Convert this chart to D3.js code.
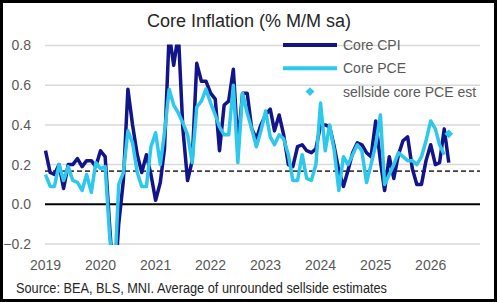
<!DOCTYPE html>
<meta charset="utf-8">
<style>
    body { margin: 0; background: #fff; }
    svg { display: block; }
    text { font-family: "Liberation Sans", Arial, sans-serif; }
    .tick-label { font-size: 14px; fill: #595959; }
    .legend text { font-size: 14px; fill: #595959; }
</style>
<svg width="499" height="302"></svg>
<script src="https://cdn.jsdelivr.net/npm/d3@7/dist/d3.min.js"></script>
<script>

    // monthly values, Jan 2019 onwards
    var cpiValues = [
        0.27, 0.16, 0.15, 0.20, 0.08, 0.20, 0.20, 0.23, 0.19, 0.22, 0.22, 0.19,
        0.27, 0.24, -0.10, -0.45, -0.10, 0.12, 0.58, 0.40, 0.25, 0.16, 0.25, 0.15,
        0.02, 0.11, 0.28, 0.86, 0.70, 0.86, 0.38, 0.12, 0.22, 0.71, 0.62, 0.62,
        0.56, 0.53, 0.27, 0.50, 0.52, 0.68, 0.30, 0.56, 0.56, 0.38, 0.33, 0.40,
        0.45, 0.48, 0.37, 0.45, 0.35, 0.20, 0.19, 0.29, 0.30, 0.27, 0.26, 0.28,
        0.40, 0.40, 0.39, 0.29, 0.17, 0.09, 0.17, 0.26, 0.31, 0.30, 0.26, 0.24,
        0.42, 0.22, 0.07, 0.24, 0.13, 0.25, 0.32, 0.34, 0.18, 0.10, 0.10, 0.22,
        0.30, 0.20, 0.21, 0.38, 0.21
    ];

    var pceValues = [
        0.15, 0.09, 0.09, 0.20, 0.12, 0.19, 0.12, 0.11, 0.07, 0.15, 0.06, 0.21,
        0.18, 0.19, -0.15, -0.40, 0.10, 0.16, 0.37, 0.31, 0.16, 0.09, 0.09, 0.29,
        0.36, 0.20, 0.36, 0.58, 0.50, 0.46, 0.41, 0.35, 0.21, 0.49, 0.52, 0.58,
        0.51, 0.45, 0.39, 0.35, 0.35, 0.60, 0.21, 0.56, 0.46, 0.38, 0.29, 0.37,
        0.47, 0.34, 0.30, 0.35, 0.33, 0.25, 0.12, 0.12, 0.25, 0.13, 0.12, 0.20,
        0.51, 0.27, 0.40, 0.27, 0.07, 0.24, 0.20, 0.25, 0.30, 0.27, 0.11, 0.20,
        0.30, 0.45, 0.10, 0.15, 0.20, 0.26, 0.24, 0.22, 0.22, 0.20, 0.24, 0.32,
        0.42, 0.38, 0.30, 0.25
    ];

    var estDate = [2026, 4];      // year, month index (May 2026)
    var estValue = 0.355;

    var yearLabels = ["2019", "2020", "2021", "2022", "2023", "2024", "2025", "2026"];
    var yTicks = [-0.2, 0, 0.2, 0.4, 0.6, 0.8];
    var targetLine = 0.167;

    var svg = d3.select("svg"),
            width = +svg.attr("width"),
            height = +svg.attr("height");

    var start = new Date(2019, 0, 1);
    function monthDate(i) { return d3.timeMonth.offset(start, i); }

    var x = d3.scaleTime()
            .domain([start, new Date(2026, 11, 1)])
            .range([45.5, 481]);

    var y = d3.scaleLinear()
            .domain([-0.2, 0.8])
            .range([244, 45.5]);

    var cpi = cpiValues.map(function(v, i) { return {date: monthDate(i), value: v}; });
    var pce = pceValues.map(function(v, i) { return {date: monthDate(i), value: v}; });

    // frame
    svg.append("rect")
            .attr("x", 1.5).attr("y", 1.5)
            .attr("width", width - 5).attr("height", height - 3)
            .attr("fill", "#fff")
            .attr("stroke", "#000")
            .attr("stroke-width", 3);

    // title
    svg.append("text")
            .attr("x", 249).attr("y", 27)
            .attr("text-anchor", "middle")
            .style("font-size", "18px")
            .style("fill", "#262626")
            .text("Core Inflation (% M/M sa)");

    // gridlines
    svg.append("g").selectAll("line")
            .data(yTicks.filter(function(d) { return d !== 0; }))
            .enter().append("line")
            .attr("x1", 45).attr("x2", 480)
            .attr("y1", function(d) { return y(d); })
            .attr("y2", function(d) { return y(d); })
            .attr("stroke", "#d9d9d9")
            .attr("stroke-width", 1.5);

    // y labels
    svg.append("g").selectAll("text")
            .data(yTicks)
            .enter().append("text")
            .attr("class", "tick-label")
            .attr("x", 31)
            .attr("y", function(d) { return y(d); })
            .attr("dy", "0.35em")
            .attr("text-anchor", "end")
            .text(function(d) { return d3.format(".1f")(d); });

    // x labels
    svg.append("g").selectAll("text")
            .data(yearLabels)
            .enter().append("text")
            .attr("class", "tick-label")
            .attr("x", function(d) { return x(new Date(+d, 0, 1)); })
            .attr("y", 270)
            .attr("text-anchor", "middle")
            .text(function(d) { return d; });

    // zero line
    svg.append("line")
            .attr("x1", 45).attr("x2", 480)
            .attr("y1", y(0)).attr("y2", y(0))
            .attr("stroke", "#000")
            .attr("stroke-width", 2);

    // 2% annualised line
    svg.append("line")
            .attr("x1", 45).attr("x2", 480)
            .attr("y1", y(targetLine)).attr("y2", y(targetLine))
            .attr("stroke", "#404040")
            .attr("stroke-width", 1.8)
            .attr("stroke-dasharray", "5,3");

    svg.append("clipPath").attr("id", "plot")
            .append("rect")
            .attr("x", 40).attr("y", y(0.8) - 1)
            .attr("width", 445).attr("height", y(-0.2) - y(0.8) + 2);

    var line = d3.line()
            .x(function(d) { return x(d.date); })
            .y(function(d) { return y(d.value); });

    var plot = svg.append("g").attr("clip-path", "url(#plot)");

    plot.append("path")
            .datum(cpi)
            .attr("d", line)
            .attr("fill", "none")
            .attr("stroke", "#13138a")
            .attr("stroke-width", 3.5)
            .attr("stroke-linejoin", "round");

    plot.append("path")
            .datum(pce)
            .attr("d", line)
            .attr("fill", "none")
            .attr("stroke", "#2ec8ec")
            .attr("stroke-width", 3.5)
            .attr("stroke-linejoin", "round");

    var diamond = d3.symbol().type(d3.symbolDiamond2).size(50);

    plot.append("path")
            .attr("d", diamond)
            .attr("transform", "translate(" + x(new Date(estDate[0], estDate[1], 1)) + "," + y(estValue) + ")")
            .attr("fill", "#2ec8ec");

    // legend
    var legend = svg.append("g").attr("class", "legend");
    var items = [
        {label: "Core CPI", color: "#13138a", type: "line"},
        {label: "Core PCE", color: "#2ec8ec", type: "line"},
        {label: "sellside core PCE est", color: "#2ec8ec", type: "diamond"}
    ];

    var item = legend.selectAll("g")
            .data(items)
            .enter().append("g")
            .attr("transform", function(d, i) { return "translate(0," + (45 + i * 23.3) + ")"; });

    item.filter(function(d) { return d.type === "line"; })
            .append("line")
            .attr("x1", 283).attr("x2", 337)
            .attr("stroke", function(d) { return d.color; })
            .attr("stroke-width", 4);

    item.filter(function(d) { return d.type === "diamond"; })
            .append("path")
            .attr("d", diamond)
            .attr("transform", "translate(310,0)")
            .attr("fill", function(d) { return d.color; });

    item.append("text")
            .attr("x", 343)
            .attr("dy", "0.35em")
            .text(function(d) { return d.label; });

    // source
    svg.append("text")
            .attr("x", 16).attr("y", 293)
            .attr("textLength", 371)
            .attr("lengthAdjust", "spacingAndGlyphs")
            .style("font-size", "14px")
            .style("fill", "#262626")
            .text("Source: BEA, BLS, MNI. Average of unrounded sellside estimates");

</script>
